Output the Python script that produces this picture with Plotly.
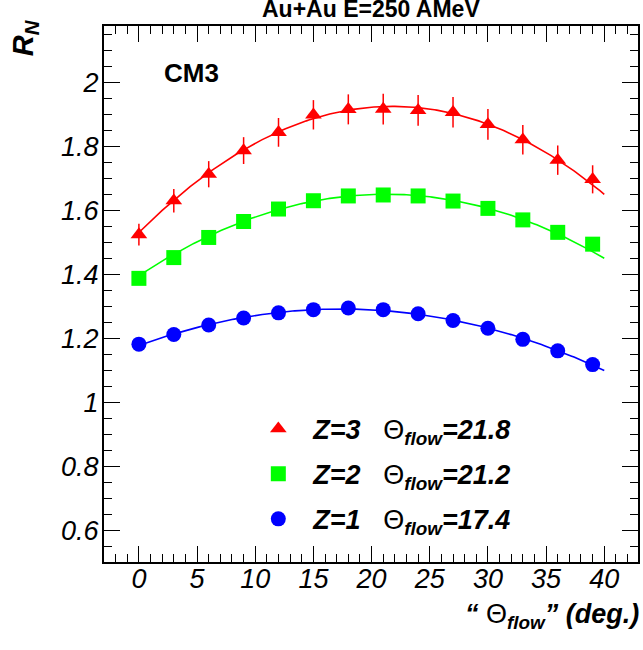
import numpy as np
import plotly.graph_objects as go

# ---------------- data ----------------
theta = [0, 3, 6, 9, 12, 15, 18, 21, 24, 27, 30, 33, 36, 39]
rn_z3 = [1.525, 1.631, 1.714, 1.788, 1.845, 1.900, 1.917, 1.918, 1.914, 1.908, 1.870, 1.822, 1.758, 1.698]
err_z3 = [0.034, 0.037, 0.041, 0.042, 0.045, 0.046, 0.047, 0.048, 0.048, 0.048, 0.048, 0.046, 0.046, 0.044]
rn_z2 = [1.388, 1.453, 1.516, 1.566, 1.605, 1.631, 1.646, 1.649, 1.646, 1.630, 1.607, 1.571, 1.532, 1.495]
rn_z1 = [1.182, 1.212, 1.242, 1.264, 1.280, 1.290, 1.295, 1.290, 1.277, 1.256, 1.232, 1.197, 1.161, 1.118]
theta_flow = {"Z=3": 21.8, "Z=2": 21.2, "Z=1": 17.4}
fit_range = [0, 40]

FONT = "Liberation Sans, Arial, sans-serif"

def parabola_fit(x, y, x0, xs):
    x = np.asarray(x, float)
    y = np.asarray(y, float)
    A = np.vstack([np.ones_like(x), (x - x0) ** 2]).T
    (a, b), *_ = np.linalg.lstsq(A, y, rcond=None)
    return a + b * (xs - x0) ** 2

xs = np.linspace(fit_range[0], fit_range[1], 201)

series = [
    ("Z=3", rn_z3, err_z3, "#ff0000", "triangle-up", 14.5),
    ("Z=2", rn_z2, None, "#00ff00", "square", 15),
    ("Z=1", rn_z1, None, "#0000ff", "circle", 15),
]

fig = go.Figure()

# fit curves
for name, ys, err, col, sym, sz in series:
    fig.add_trace(go.Scatter(
        x=xs, y=parabola_fit(theta, ys, theta_flow[name], xs),
        mode="lines", line=dict(color=col, width=1.6),
        showlegend=False, hoverinfo="skip"))

# data points
for i, (name, ys, err, col, sym, sz) in enumerate(series):
    label = ("\u00a0\u00a0<b><i>%s</i></b>\u00a0\u00a0\u00a0Θ<sub><b><i>flow</i></b></sub><b><i>=%.1f</i></b>"
             % (name, theta_flow[name]))
    kw = {}
    if err is not None:
        kw["error_y"] = dict(type="data", array=err, visible=True,
                             color=col, thickness=1.5, width=0)
    fig.add_trace(go.Scatter(
        x=theta, y=ys, mode="markers", name=label, legendgroup=str(i),
        marker=dict(symbol=sym, size=sz, color=col, line=dict(width=0)),
        **kw))

axis_common = dict(
    showline=True, linewidth=2, linecolor="black", mirror="allticks",
    ticks="inside", ticklen=16, tickwidth=1, tickcolor="black",
    showgrid=False, zeroline=False,
    tickfont=dict(family=FONT, size=27, color="black", style="italic"),
)

fig.update_xaxes(range=[-3, 42.9], tick0=0, dtick=5, ticklabelstandoff=-8,
                 minor=dict(ticks="inside", ticklen=8, dtick=1, tick0=0,
                            tickcolor="black", tickwidth=1, showgrid=False),
                 **axis_common)
fig.update_yaxes(range=[0.5, 2.178], tick0=0, dtick=0.2, ticklabelstandoff=-2,
                 minor=dict(ticks="inside", ticklen=8, dtick=0.05, tick0=0,
                            tickcolor="black", tickwidth=1, showgrid=False),
                 **axis_common)

fig.update_layout(
    width=643, height=650,
    margin=dict(l=104, r=3, t=26, b=88, pad=0),
    plot_bgcolor="white", paper_bgcolor="white",
    font=dict(family=FONT, color="black"),
    showlegend=True,
    legend=dict(x=0.289, xanchor="left", y=0.164, yanchor="middle",
                bgcolor="rgba(0,0,0,0)", tracegroupgap=7,
                font=dict(family=FONT, size=27, color="black"),
                itemsizing="trace"),
    annotations=[
        dict(text="<b>Au+Au E=250 AMeV</b>", xref="paper", yref="paper",
             x=0.5, y=1.0591, xanchor="center", yanchor="top", showarrow=False,
             font=dict(family=FONT, size=23, color="black")),
        dict(text="<b><i>R<sub>N</sub></i></b>", xref="paper", yref="paper",
             x=-0.149, y=0.978, xanchor="center", yanchor="middle", showarrow=False,
             textangle=-90, font=dict(family=FONT, size=29, color="black")),
        dict(text="<b>CM3</b>", xref="paper", yref="paper",
             x=0.163, y=0.9114, xanchor="center", yanchor="middle", showarrow=False,
             font=dict(family=FONT, size=26, color="black")),
        dict(text="<b><i>“</i></b>\u00a0Θ<sub><b><i>flow</i></b></sub><b><i>” (deg.)</i></b>",
             xref="paper", yref="paper", x=1.006, y=-0.066, xanchor="right", yanchor="top",
             showarrow=False, font=dict(family=FONT, size=27, color="black")),
    ],
)

fig.write_html("out.html", config={"displayModeBar": False},
               post_script="document.body.style.margin='0';")
